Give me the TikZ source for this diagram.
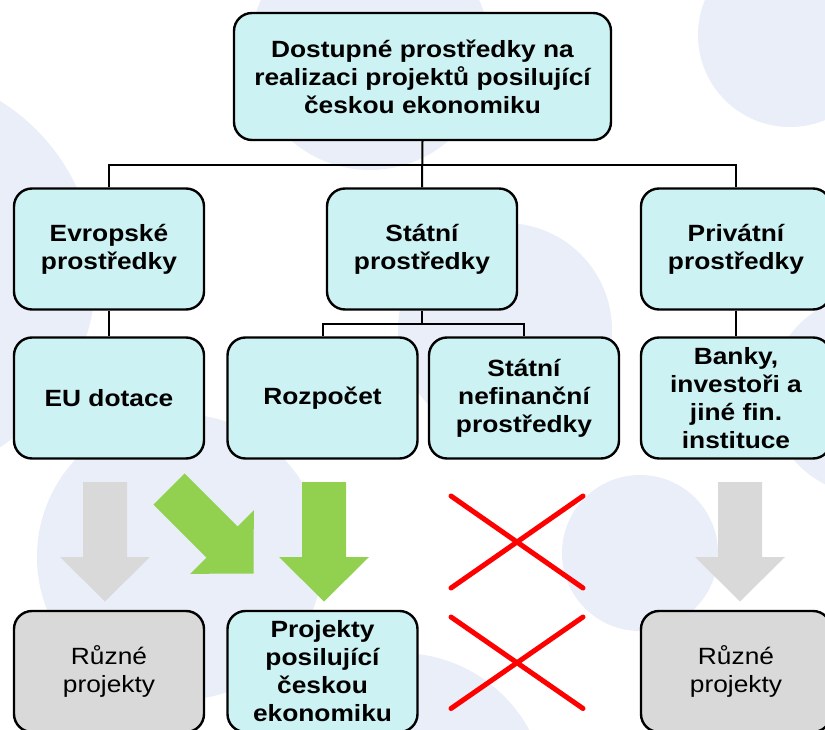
\documentclass[tikz,border=0pt]{standalone}
\usepackage{fontspec}
\setmainfont{Liberation Sans}[FakeStretch=1.12]
\usepackage{xcolor}

\definecolor{boxcyan}{RGB}{205,242,243}
\definecolor{boxgrey}{RGB}{217,217,217}
\definecolor{arrgreen}{RGB}{146,208,80}
\definecolor{bgblue}{RGB}{233,238,248}

\begin{document}
\begin{tikzpicture}[
    x=1pt, y=-1pt,
    every node/.style={draw, line width=2.4pt, rounded corners=18pt, fill=boxcyan,
        minimum width=190pt, minimum height=121pt, inner sep=0pt, align=center,
        font=\bfseries\fontsize{23.5}{28}\selectfont},
    plainbox/.style={fill=boxgrey, font=\fontsize{23.5}{28}\selectfont},
    link/.style={line width=2pt},
    cross/.style={draw=red, line width=5pt, line cap=round}
]
\useasboundingbox (0,0) rectangle (825,730);
\clip (0,0) rectangle (825,730);
\fill[white] (0,0) rectangle (825,730);

% background circles
\fill[bgblue] (370,50) circle (120pt);
\fill[bgblue] (790,35) circle (92pt);
\fill[bgblue] (-108,274) circle (204pt);
\fill[bgblue] (505,330) circle (107pt);
\fill[bgblue] (870,395) circle (100pt);
\fill[bgblue] (180,557) circle (143pt);
\fill[bgblue] (640,553) circle (78pt);
\fill[bgblue] (400,800) circle (147pt);

\node (root) at (422.5,76.5) [minimum width=377pt, minimum height=127pt]
    {Dostupné prostředky na\\realizaci projektů posilující\\českou ekonomiku};

\node (evr) at (109,249) {Evropské\\prostředky};
\node (stat) at (422,249) {Státní\\prostředky};
\node (priv) at (736,249) {Privátní\\prostředky};

\node (eu) at (109,398) {EU dotace};
\node (rozp) at (322.5,398) {Rozpočet};
\node (nefin) at (524,398) {Státní\\nefinanční\\prostředky};
\node (banky) at (736,398) {Banky,\\investoři a\\jiné fin.\\instituce};

\node[plainbox] (ruzne1) at (109,671.5) {Různé\\projekty};
\node (proj) at (322.5,671.5) {Projekty\\posilující\\českou\\ekonomiku};
\node[plainbox] (ruzne2) at (736,671.5) {Různé\\projekty};

\draw[link] (root.south) -- (stat.north);
\draw[link] (evr.north) |- ([yshift=-24pt]root.south) -| (priv.north);
\draw[link] (stat.south) -- ([yshift=-13pt]stat.south);
\draw[link] (rozp.north) |- ([yshift=-13pt]stat.south) -| (nefin.north);
\draw[link] (evr) -- (eu);
\draw[link] (priv) -- (banky);

% block arrows
\fill[boxgrey] (105,482) ++(-22,0) -- ++(44,0) -- ++(0,75) -- ++(23,0)
    -- ++(-45,44.5) -- ++(-45,-44.5) -- ++(23,0) -- cycle;
\fill[arrgreen] (324,482) ++(-22,0) -- ++(44,0) -- ++(0,75) -- ++(23,0)
    -- ++(-45,44.5) -- ++(-45,-44.5) -- ++(23,0) -- cycle;
\fill[arrgreen, shift={(169,489)}, rotate=45] (0,0) ++(-22,0) -- ++(44,0) -- ++(0,75) -- ++(23,0)
    -- ++(-45,44.5) -- ++(-45,-44.5) -- ++(23,0) -- cycle;
\fill[boxgrey] (740,482) ++(-22,0) -- ++(44,0) -- ++(0,75) -- ++(23,0)
    -- ++(-45,44.5) -- ++(-45,-44.5) -- ++(23,0) -- cycle;

% crosses
\draw[cross] (451,496) -- (583,588) (451,588) -- (583,496);
\draw[cross] (451,617) -- (583,708.5) (451,708.5) -- (583,617);
\end{tikzpicture}
\end{document}
